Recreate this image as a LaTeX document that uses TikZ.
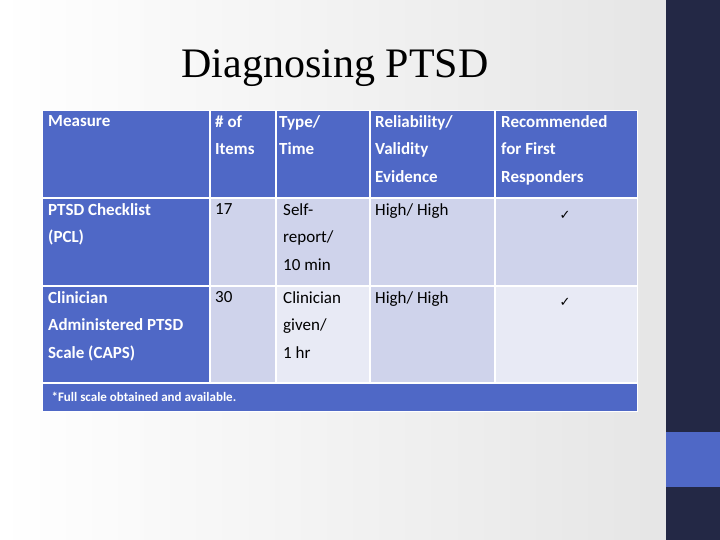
\documentclass[tikz,border=0pt]{standalone}
\usepackage{fontspec}
\setmainfont{Carlito}
\newfontfamily\titlefont{Liberation Serif}
\newfontfamily\symfont{DejaVu Sans}
\definecolor{hdr}{HTML}{4F68C6}
\definecolor{navy}{HTML}{232845}
\definecolor{rowA}{HTML}{CFD3EB}
\definecolor{rowB}{HTML}{E8EAF5}
\begin{document}
\begin{tikzpicture}[x=1pt,y=-1pt,
  cell/.style={anchor=north west,inner sep=0pt,align=left,font=\fontsize{17}{27.5}\selectfont},
  hcell/.style={cell,text=white,font=\fontsize{17}{27.5}\selectfont\bfseries}]
\useasboundingbox (0,0) rectangle (720,540);
\shade[left color=white,right color=black!10] (0,0) rectangle (666,540);
\fill[navy] (666,0) rectangle (720,540);
\fill[hdr] (666,432) rectangle (720,487);
\node[font=\titlefont\fontsize{42}{48}\selectfont] (title) at (335,68) {Diagnosing PTSD};
% fills
\fill[hdr] (42,111) rectangle (637,411);
\fill[rowA] (210,198) rectangle (637,286);
\fill[rowA] (210,286) rectangle (276,383);
\fill[rowB] (276,286) rectangle (370,383);
\fill[rowA] (370,286) rectangle (495,383);
\fill[rowB] (495,286) rectangle (637,383);
% grid lines
\draw[white,line width=2pt] (42,198) -- (637,198) (42,286) -- (637,286) (42,383) -- (637,383);
\draw[white,line width=2pt] (210,111) -- (210,383) (276,111) -- (276,383) (370,111) -- (370,383) (495,111) -- (495,383);
\draw[white,line width=1pt] (42,111) rectangle (637,411);
% header
\node[hcell] (h1) at (48,115) {Measure};
\node[hcell] (h2) at (215,115) {\# of\\Items};
\node[hcell] (h3) at (279,115) {Type/\\Time};
\node[hcell] (h4) at (375,115) {Reliability/\\Validity\\Evidence};
\node[hcell] (h5) at (501,115) {Recommended\\for First\\Responders};
% row 1
\node[hcell] (a1) at (48,203) {PTSD Checklist\\(PCL)};
\node[cell] (a2) at (215,203) {17};
\node[cell] (a3) at (283,203) {Self-\\report/\\10 min};
\node[cell] (a4) at (375,203) {High/ High};
\node[font=\symfont\fontsize{13}{15}\selectfont] (a5) at (565,215) {✓};
% row 2
\node[hcell] (b1) at (48,291) {Clinician\\Administered PTSD\\Scale (CAPS)};
\node[cell] (b2) at (215,291) {30};
\node[cell] (b3) at (283,291) {Clinician\\given/\\1 hr};
\node[cell] (b4) at (375,291) {High/ High};
\node[font=\symfont\fontsize{13}{15}\selectfont] (b5) at (565,302) {✓};
% footer
\node[anchor=west,text=white,font=\fontsize{13}{15}\selectfont\bfseries] (foot) at (48,397) {*Full scale obtained and available.};
\end{tikzpicture}
\end{document}
